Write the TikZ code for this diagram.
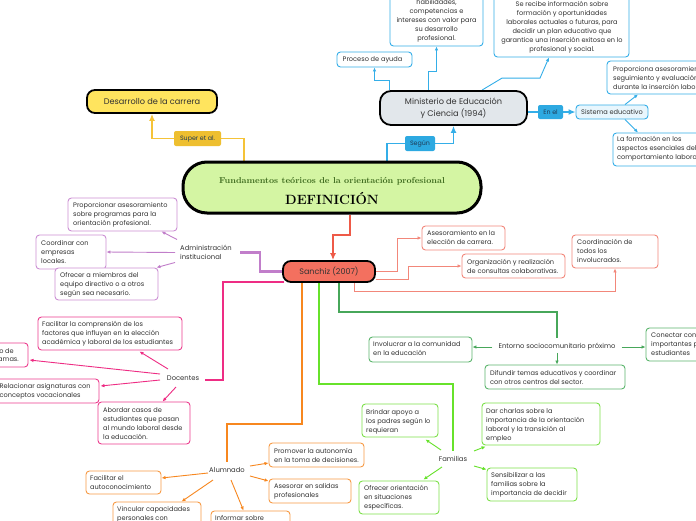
\documentclass[tikz,border=0pt]{standalone}
\usepackage{fontspec}
\newfontfamily\pop{Poppins}
\usetikzlibrary{arrows.meta,fit,calc}
\pgfdeclarelayer{bgl}
\pgfsetlayers{bgl,main}
\definecolor{txt}{HTML}{333333}
\definecolor{yl}{HTML}{F5C338}
\definecolor{ylfill}{HTML}{FFE45E}
\definecolor{ylab}{HTML}{EEBF30}
\definecolor{bl}{HTML}{34AEE8}
\definecolor{blab}{HTML}{2DA9E1}
\definecolor{blfill}{HTML}{E8F6FD}
\definecolor{minfill}{HTML}{E2E7EB}
\definecolor{cenfill}{HTML}{D4F5A3}
\definecolor{tgreen}{HTML}{3E6B1E}
\definecolor{pu}{HTML}{C17ECA}
\definecolor{pub}{HTML}{CC8FD4}
\definecolor{sanfill}{HTML}{F3705F}
\definecolor{rd}{HTML}{EE5A48}
\definecolor{sal}{HTML}{F2877A}
\definecolor{dg}{HTML}{47A75A}
\definecolor{dgb}{HTML}{5BB56C}
\definecolor{bgr}{HTML}{67E22B}
\definecolor{bgb}{HTML}{7DE04A}
\definecolor{pk}{HTML}{EE2D84}
\definecolor{pkb}{HTML}{EC3D8E}
\definecolor{orn}{HTML}{F7871F}
\definecolor{ornb}{HTML}{F79A45}
\definecolor{labtxt}{HTML}{1E3A55}
\tikzset{
  bxr/.style={draw=#1, line width=0.9pt, rounded corners=3.5pt, fill=white, inner sep=0pt},
  tx/.style={anchor=west, inner sep=0pt, align=left, font=\pop\fontsize{6.6}{9}\selectfont, text=txt},
  lbltx/.style={inner sep=0pt, align=left, font=\pop\fontsize{6.8}{9}\selectfont, text=txt},
  labbox/.style={fill=#1, rounded corners=2pt, inner sep=0pt, font=\pop\fontsize{6.3}{8}\selectfont, text=labtxt},
  big/.style={-{Latex[length=7pt,width=6pt]}},
  sm/.style={-{Latex[length=4pt,width=3.5pt]}},
  thin/.style={line width=0.9pt},
}
\newcommand\tbox[6]{\node[bxr=#2, fit={#3 #4}] (#1) {};\node[tx] (#1t) at #5 {#6};}
\begin{document}
\begin{tikzpicture}[x=1pt,y=-1pt]
\useasboundingbox (0,0) rectangle (696,520);
\clip (0,0) rectangle (696,520);

% central
\node[draw=black, line width=3pt, rounded corners=24pt, fill=cenfill, minimum width=298, minimum height=51, inner sep=0pt] (cen) at (332,187.5) {};
\node[inner sep=0pt, font=\bfseries\fontsize{8.6}{10}\selectfont, text=tgreen] (cent1) at (332,181.5) {Fundamentos teóricos de la orientación profesional};
\node[inner sep=0pt, font=\bfseries\fontsize{13.4}{15}\selectfont, text=black] (cent2) at (332,198) {DEFINICIÓN};

% yellow
\node[draw=black, line width=1.8pt, rounded corners=8pt, fill=ylfill, minimum width=130, minimum height=23, inner sep=0pt, font=\pop\fontsize{8.2}{10}\selectfont, text=txt] (des) at (152,101.5) {Desarrollo de la carrera};
\node[labbox=ylab, minimum width=47, minimum height=15] (sup) at (197.5,138.5) {Super et al.};

% ministerio
\node[draw=black, line width=1.8pt, rounded corners=11pt, fill=minfill, minimum width=147, minimum height=34, inner sep=0pt, align=center, font=\pop\fontsize{8.2}{12}\selectfont, text=txt] (min) at (453.5,108) {Ministerio de Educación\\y Ciencia (1994)};
\node[labbox=blab, minimum width=30, minimum height=15] (seg) at (420,143.5) {Según};
\node[labbox=blab, minimum width=25, minimum height=14] (enel) at (550.5,112) {En el};
\node[draw=bl, line width=0.9pt, rounded corners=3.5pt, fill=blfill, minimum width=72, minimum height=14, inner sep=0pt, font=\pop\fontsize{6.6}{9}\selectfont, text=txt] (sis) at (612,112) {Sistema educativo};

\tbox{proc}{bl}{(337,52)}{(412,67)}{(342.5,59.5)}{Proceso de ayuda}
\node[bxr=bl, fit={(390,-30) (483,46)}] (hab) {};
\node[tx, anchor=center, align=center] (habt) at (436.5,21) {habilidades,\\competencias e\\intereses con valor para\\su desarrollo\\profesional.};
\node[bxr=bl, fit={(494,-30) (629,57)}] (sec) {};
\node[tx, anchor=center, align=center] (sect) at (562,27.5) {Se recibe información sobre\\formación y oportunidades\\laborales actuales o futuras, para\\decidir un plan educativo que\\garantice una inserción exitosa en lo\\profesional y social.};
\tbox{propo}{bl}{(607,61)}{(720,94)}{(613,78)}{Proporciona asesoramiento,\\seguimiento y evaluación\\durante la inserción laboral}
\tbox{laf}{bl}{(613,133)}{(720,166)}{(617,149)}{La formación en los\\aspectos esenciales del\\comportamiento laboral}

% sanchiz
\node[draw=black, line width=1.8pt, rounded corners=8pt, fill=sanfill, minimum width=92, minimum height=21, inner sep=0pt, font=\pop\fontsize{8}{10}\selectfont, text=txt] (san) at (329,271.5) {Sanchiz (2007)};

% purple
\node[lbltx, anchor=west] (admt) at (180,252.5) {Administración\\institucional};
\tbox{pa}{pub}{(68,198)}{(177,231)}{(73,215)}{Proporcionar asesoramiento\\sobre programas para la\\orientación profesional.}
\tbox{coo}{pub}{(36,235)}{(106,269)}{(41,252)}{Coordinar con\\empresas\\locales.}
\tbox{ofr}{pub}{(55,268)}{(158,300)}{(60,285)}{Ofrecer a miembros del\\equipo directivo o a otros\\según sea necesario.}

% salmon
\tbox{ase}{sal}{(422,226)}{(505,250)}{(427,237.5)}{Asesoramiento en la\\elección de carrera.}
\tbox{org}{sal}{(462,254)}{(565,278)}{(467,266)}{Organización y realización\\de consultas colaborativas.}
\tbox{coord}{sal}{(572,235)}{(658,268)}{(577,251)}{Coordinación de\\todos los\\involucrados.}

% dark green
\node[lbltx] (entt) at (557,347) {Entorno sociocomunitario próximo};
\tbox{inv}{dgb}{(369,337)}{(472,362)}{(373,348.5)}{Involucrar a la comunidad\\en la educación}
\tbox{con}{dgb}{(646,328)}{(720,361)}{(651,344)}{Conectar con agentes\\importantes para los\\estudiantes}
\tbox{dif}{dgb}{(485,365)}{(625,389)}{(490,377.5)}{Difundir temas educativos y coordinar\\con otros centros del sector.}

% bright green
\node[lbltx] (famt) at (453,459) {Familias};
\tbox{bri}{bgb}{(362,404)}{(438,437)}{(366,422)}{Brindar apoyo a\\los padres según lo\\requieran}
\tbox{dar}{bgb}{(482,403)}{(600,445)}{(486,425.5)}{Dar charlas sobre la\\importancia de la orientación\\laboral y la transición al\\empleo}
\tbox{sen}{bgb}{(487,468)}{(577,501)}{(491,485)}{Sensibilizar a las\\familias sobre la\\importancia de decidir}
\tbox{ofre}{bgb}{(359,481)}{(439,514)}{(364,498)}{Ofrecer orientación\\en situaciones\\específicas.}

% pink
\node[lbltx] (doct) at (183,378) {Docentes};
\tbox{fac}{pkb}{(38,317)}{(182,350)}{(42,334)}{Facilitar la comprensión de los\\factores que influyen en la elección\\académica y laboral de los estudiantes}
\node[bxr=pkb, fit={(-60,343) (28,367)}] (cut) {};
\node[tx, anchor=east] (cutt) at (14,351) {Informar sobre el desarrollo de};
\node[tx, anchor=east] (cutt2) at (19,360) {los programas.};
\tbox{rel}{pkb}{(-10,379)}{(99,403)}{(-0.5,391.5)}{Relacionar asignaturas con\\conceptos vocacionales}
\tbox{abo}{pkb}{(98,402)}{(190,444)}{(103,423.5)}{Abordar casos de\\estudiantes que pasan\\al mundo laboral desde\\la educación.}

% orange
\node[lbltx] (alut) at (227,470) {Alumnado};
\tbox{pro}{ornb}{(269,443)}{(364,467)}{(274,455)}{Promover la autonomía\\en la toma de decisiones.}
\tbox{asa}{ornb}{(269,479)}{(351,503)}{(274,491)}{Asesorar en salidas\\profesionales}
\tbox{fau}{ornb}{(86,471)}{(161,494)}{(90,482.5)}{Facilitar el\\autoconocimiento}
\tbox{vin}{ornb}{(113,502)}{(201,545)}{(117,514.5)}{Vincular capacidades\\personales con}
\tbox{inf}{ornb}{(211,511)}{(290,545)}{(215,518)}{Informar sobre}

\begin{pgfonlayer}{bgl}
\fill[white] (0,0) rectangle (696,520);
% yellow
\draw[yl, line width=1.8pt] ([xshift=-88]cen.north) |- (sup.east);
\draw[yl, line width=1.8pt, big] (sup.west) -| (des.south);
% blue
\draw[bl, line width=1.8pt] ([xshift=55]cen.north) |- (seg.west);
\draw[bl, line width=1.8pt, big] (seg.east) -| (min.south);
\draw[bl, thin, sm] ([xshift=-64.5]min.north) -- ++(0,-10) -| (proc.south);
\draw[bl, thin, sm] ([xshift=-25]min.north) -- ++(0,-19) -| (hab.south);
\draw[bl, thin, sm] ([xshift=28.5]min.north) -- ++(20,-12) -- ++(38,0) -- ([xshift=-12.5]sec.south);
\draw[bl, line width=1.8pt] (min.east |- enel.west) -- (enel.west);
\draw[bl, line width=1.8pt, big] (enel.east) -- (sis.west);
\draw[bl, thin, sm] ([xshift=13]sis.north) -- ([xshift=-25.5]propo.south);
\draw[bl, thin, sm] ([xshift=13]sis.south) -- ([xshift=-28.5]laf.north);
% red
\draw[rd, line width=2pt, big] ([xshift=18]cen.south) -- ++(0,20) -| ([xshift=4]san.north);
% salmon
\draw[sal, thin, sm] (san.east) -- ++(22,0) |- (ase.west);
\draw[sal, thin, sm] ([shift={(0,8)}]san.east) -- ++(33,0) |- (org.west);
\draw[sal, thin, sm] ([xshift=25]san.south) -- ++(0,9) -| (coord.south);
% purple
\draw[pu, line width=2.2pt] (san.west) -- ++(-22,0) |- ([xshift=8]admt.east);
\draw[pu, thin, sm] ([shift={(-3,-13)}]admt.west) -- ([xshift=-16]pa.south east);
\draw[pu, thin, sm] ([xshift=-5]admt.west) -- (coo.east);
\draw[pu, thin, sm] ([shift={(-5,10)}]admt.west) -- ([xshift=-2]ofr.north east);
% pink
\draw[pk, line width=2.5pt] ([shift={(2,-1)}]san.south west) -- ++(-61,0) |- ([shift={(6,2)}]doct.east);
\draw[pk, thin, sm] ([shift={(-15,-9)}]doct.center) -- ([shift={(-43,1)}]fac.south east);
\draw[pk, thin, sm] ([shift={(-23,-4)}]doct.center) -- ([shift={(1,5)}]cut.east);
\draw[pk, thin, sm] ([shift={(-23,2)}]doct.center) -- ([shift={(1,-5)}]rel.east);
\draw[pk, thin, sm] ([shift={(-7,9)}]doct.center) -- ([xshift=65]abo.north west);
% orange
\draw[orn, line width=2.5pt] ([xshift=-27]san.south) -- ++(0,141) -| ([shift={(0,-5)}]alut.north);
\draw[orn, thin, sm] ([shift={(23,-4)}]alut.center) -- ([shift={(0,8)}]pro.west);
\draw[orn, thin, sm] ([shift={(23,6)}]alut.center) -- ([shift={(0,-10)}]asa.west);
\draw[orn, thin, sm] ([shift={(-19,3)}]alut.center) -- ([shift={(0,-4.5)}]fau.east);
\draw[orn, thin, sm] ([shift={(-14,10)}]alut.center) -- ([xshift=69]vin.north west);
\draw[orn, thin, sm] ([shift={(4,10)}]alut.center) -- ([xshift=33]inf.north west);
% dark green
\draw[dg, line width=2pt] ([xshift=10]san.south) -- ++(0,29) -| ([shift={(0,-5)}]entt.north);
\draw[dg, thin, sm] ([xshift=-6]entt.west) -- (inv.east |- entt.west);
\draw[dg, thin, sm] ([xshift=6]entt.east) -- (con.west |- entt.east);
\draw[dg, thin, sm] ([shift={(0,2)}]entt.south) -- (dif.north -| entt.south);
% bright green
\draw[bgr, line width=2.5pt] ([xshift=-10]san.south) -- ++(0,101) -| ([shift={(0,-5)}]famt.north);
\draw[bgr, thin, sm] ([shift={(-12,-9)}]famt.center) -- ([shift={(-13,2)}]bri.south east);
\draw[bgr, thin, sm] ([shift={(21,-8)}]famt.center) -- ([shift={(4,1)}]dar.south west);
\draw[bgr, thin, sm] ([shift={(21,7)}]famt.center) -- ([shift={(0,2)}]sen.north west);
\draw[bgr, thin, sm] ([shift={(-11,8)}]famt.center) -- ([shift={(-16,-1)}]ofre.north east);
\end{pgfonlayer}
\end{tikzpicture}
\end{document}
